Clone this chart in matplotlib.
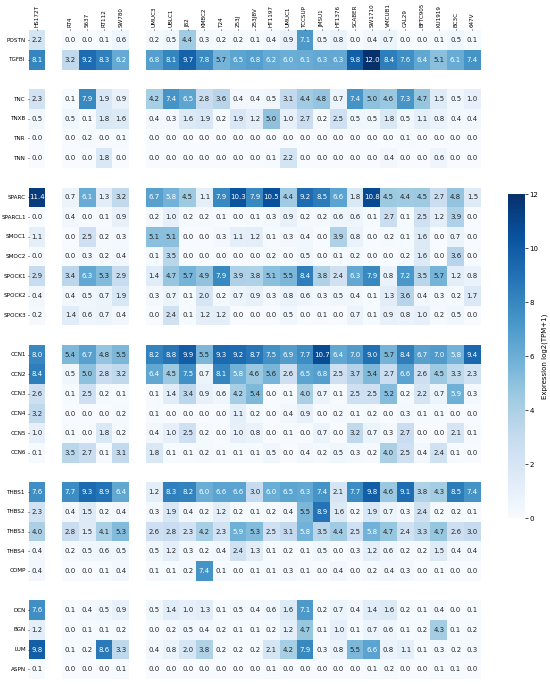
import numpy as np
import pandas as pd
import matplotlib
matplotlib.use("Agg")
import matplotlib.pyplot as plt
import seaborn as sns

# cell lines, grouped (a blank column goes between groups)
col_groups = [
    ["HS172T"],
    ["RT4", "5637", "RT112", "SW780"],
    ["UMUC3", "UBLC1", "J82", "KMBC2", "T24", "253J", "253JBV", "HT1197",
     "UMUC1", "TCCSUP", "JMSU1", "HT1376", "SCABER", "SW1710", "VMCUB1",
     "CAL29", "BFTC905", "KU1919", "BC3C", "647V"],
]

# genes, grouped (a blank row goes between groups)
row_groups = [
    ["POSTN", "TGFBI"],
    ["TNC", "TNXB", "TNR", "TNN"],
    ["SPARC", "SPARCL1", "SMOC1", "SMOC2", "SPOCK1", "SPOCK2", "SPOCK3"],
    ["CCN1", "CCN2", "CCN3", "CCN4", "CCN5", "CCN6"],
    ["THBS1", "THBS2", "THBS3", "THBS4", "COMP"],
    ["DCN", "BGN", "LUM", "ASPN"],
]

# log2(TPM+1), one list per gene, columns in the order of col_groups
POSTN = [2.2, 0.0, 0.0, 0.1, 0.6, 0.2, 0.5, 4.4, 0.3, 0.2, 0.2, 0.1, 0.4, 0.9, 7.1, 0.5, 0.8, 0.0, 0.4, 0.7, 0.0, 0.0, 0.1, 0.5, 0.1]
TGFBI = [8.1, 3.2, 9.2, 8.3, 6.2, 6.8, 8.1, 9.7, 7.8, 5.7, 6.5, 6.8, 6.2, 6.0, 6.1, 6.3, 6.3, 9.8, 12.0, 8.4, 7.6, 6.4, 5.1, 6.1, 7.4]
TNC = [2.3, 0.1, 7.9, 1.9, 0.9, 4.2, 7.4, 6.5, 2.8, 3.6, 0.4, 0.4, 0.5, 3.1, 4.4, 4.8, 0.7, 7.4, 5.0, 4.6, 7.3, 4.7, 1.5, 0.5, 1.0]
TNXB = [0.5, 0.5, 0.1, 1.8, 1.6, 0.4, 0.3, 1.6, 1.9, 0.2, 1.9, 1.2, 5.0, 1.0, 2.7, 0.2, 2.5, 0.5, 0.5, 1.8, 0.5, 1.1, 0.8, 0.4, 0.4]
TNR = [0.0, 0.0, 0.2, 0.0, 0.1, 0.0, 0.0, 0.0, 0.0, 0.0, 0.0, 0.0, 0.0, 0.0, 0.0, 0.0, 0.0, 0.0, 0.0, 0.0, 0.1, 0.0, 0.0, 0.0, 0.0]
TNN = [0.0, 0.0, 0.0, 1.8, 0.0, 0.0, 0.0, 0.0, 0.0, 0.0, 0.0, 0.0, 0.1, 2.2, 0.0, 0.0, 0.0, 0.0, 0.0, 0.4, 0.0, 0.0, 0.6, 0.0, 0.0]
SPARC = [11.4, 0.7, 6.1, 1.3, 3.2, 6.7, 5.8, 4.5, 1.1, 7.9, 10.3, 7.9, 10.5, 4.4, 9.2, 8.5, 6.6, 1.8, 10.8, 4.5, 4.4, 4.5, 2.7, 4.8, 1.5]
SPARCL1 = [0.0, 0.4, 0.0, 0.1, 0.9, 0.2, 1.0, 0.2, 0.2, 0.1, 0.0, 0.1, 0.3, 0.9, 0.2, 0.2, 0.6, 0.6, 0.1, 2.7, 0.1, 2.5, 1.2, 3.9, 0.0]
SMOC1 = [1.1, 0.0, 2.5, 0.2, 0.3, 5.1, 5.1, 0.0, 0.0, 0.3, 1.1, 1.2, 0.1, 0.3, 0.4, 0.0, 3.9, 0.8, 0.0, 0.2, 0.1, 1.6, 0.0, 0.7, 0.0]
SMOC2 = [0.0, 0.0, 0.3, 0.2, 0.4, 0.1, 3.5, 0.0, 0.0, 0.0, 0.0, 0.0, 0.2, 0.0, 0.5, 0.0, 0.1, 0.2, 0.0, 0.0, 0.2, 1.6, 0.0, 3.6, 0.0]
SPOCK1 = [2.9, 3.4, 6.3, 5.3, 2.9, 1.4, 4.7, 5.7, 4.9, 7.9, 3.9, 3.8, 5.1, 5.5, 8.4, 3.8, 2.4, 6.3, 7.9, 0.8, 7.2, 3.5, 5.7, 1.2, 0.8]
SPOCK2 = [0.4, 0.4, 0.5, 0.7, 1.9, 0.3, 0.7, 0.1, 2.0, 0.2, 0.7, 0.9, 0.3, 0.8, 0.6, 0.3, 0.5, 0.4, 0.1, 1.3, 3.6, 0.4, 0.3, 0.2, 1.7]
SPOCK3 = [0.2, 1.4, 0.6, 0.7, 0.4, 0.0, 2.4, 0.1, 1.2, 1.2, 0.0, 0.0, 0.0, 0.5, 0.0, 0.1, 0.0, 0.7, 0.1, 0.9, 0.8, 1.0, 0.2, 0.5, 0.0]
CCN1 = [8.0, 5.4, 6.7, 4.8, 5.5, 8.2, 8.8, 9.9, 5.5, 9.3, 9.2, 8.7, 7.5, 6.9, 7.7, 10.7, 6.4, 7.0, 9.0, 5.7, 8.4, 6.7, 7.0, 5.8, 9.4]
CCN2 = [8.4, 0.5, 5.0, 2.8, 3.2, 6.4, 4.5, 7.5, 0.7, 8.1, 5.8, 4.6, 5.6, 2.6, 6.5, 6.8, 2.5, 3.7, 5.4, 2.7, 6.6, 2.6, 4.5, 3.3, 2.3]
CCN3 = [2.6, 0.1, 2.5, 0.2, 0.1, 0.1, 1.4, 3.4, 0.9, 0.6, 4.2, 5.4, 0.0, 0.1, 4.0, 0.7, 0.1, 2.5, 2.5, 5.2, 0.2, 2.2, 0.7, 5.9, 0.3]
CCN4 = [3.2, 0.0, 0.0, 0.0, 0.2, 0.1, 0.0, 0.0, 0.0, 0.0, 1.1, 0.2, 0.0, 0.4, 0.9, 0.0, 0.2, 0.1, 0.2, 0.0, 0.3, 0.1, 0.1, 0.0, 0.0]
CCN5 = [1.0, 0.1, 0.0, 1.8, 0.2, 0.4, 1.0, 2.5, 0.2, 0.0, 1.0, 0.8, 0.0, 0.1, 0.0, 0.7, 0.0, 3.2, 0.7, 0.3, 2.7, 0.0, 0.0, 2.1, 0.1]
CCN6 = [0.1, 3.5, 2.7, 0.1, 3.1, 1.8, 0.1, 0.1, 0.2, 0.1, 0.1, 0.1, 0.5, 0.0, 0.4, 0.2, 0.5, 0.3, 0.2, 4.0, 2.5, 0.4, 2.4, 0.1, 0.0]
THBS1 = [7.6, 7.7, 9.3, 8.9, 6.4, 1.2, 8.3, 8.2, 6.0, 6.6, 6.6, 3.0, 6.0, 6.5, 6.3, 7.4, 2.1, 7.7, 9.8, 4.6, 9.1, 3.8, 4.3, 8.5, 7.4]
THBS2 = [2.3, 0.4, 1.5, 0.2, 0.4, 0.3, 1.9, 0.4, 0.2, 1.2, 0.2, 0.1, 0.2, 0.4, 5.5, 8.9, 1.6, 0.2, 1.9, 0.7, 0.3, 2.4, 0.2, 0.2, 0.1]
THBS3 = [4.0, 2.8, 1.5, 4.1, 5.3, 2.6, 2.8, 2.3, 4.2, 2.3, 5.9, 5.3, 2.5, 3.1, 5.8, 3.5, 4.4, 2.5, 5.8, 4.7, 2.4, 3.3, 4.7, 2.6, 3.0]
THBS4 = [0.4, 0.2, 0.5, 0.6, 0.5, 0.5, 1.2, 0.3, 0.2, 0.4, 2.4, 1.3, 0.1, 0.2, 0.1, 0.5, 0.0, 0.3, 1.2, 0.6, 0.2, 0.2, 1.5, 0.4, 0.4]
COMP = [0.4, 0.0, 0.0, 0.1, 0.4, 0.1, 0.1, 0.2, 7.4, 0.1, 0.0, 0.1, 0.1, 0.3, 0.1, 0.0, 0.4, 0.0, 0.2, 0.4, 0.3, 0.0, 0.1, 0.0, 0.0]
DCN = [7.6, 0.1, 0.4, 0.5, 0.9, 0.5, 1.4, 1.0, 1.3, 0.1, 0.5, 0.4, 0.6, 1.6, 7.1, 0.2, 0.7, 0.4, 1.4, 1.6, 0.2, 0.1, 0.4, 0.0, 0.1]
BGN = [1.2, 0.0, 0.1, 0.1, 0.2, 0.0, 0.2, 0.5, 0.4, 0.2, 0.1, 0.1, 0.2, 1.2, 4.7, 0.1, 1.0, 0.1, 0.7, 0.6, 0.1, 0.2, 4.3, 0.1, 0.2]
LUM = [9.8, 0.1, 0.2, 8.6, 3.3, 0.4, 0.8, 2.0, 3.8, 0.2, 0.2, 0.2, 2.1, 4.2, 7.9, 0.3, 0.8, 5.5, 6.6, 0.8, 1.1, 0.1, 0.3, 0.2, 0.3]
ASPN = [0.1, 0.0, 0.0, 0.0, 0.1, 0.0, 0.0, 0.0, 0.0, 0.0, 0.0, 0.0, 0.1, 0.0, 0.0, 0.0, 0.0, 0.0, 0.1, 0.2, 0.0, 0.0, 0.1, 0.1, 0.0]

values = {
    "POSTN": POSTN, "TGFBI": TGFBI, "TNC": TNC, "TNXB": TNXB, "TNR": TNR,
    "TNN": TNN, "SPARC": SPARC, "SPARCL1": SPARCL1, "SMOC1": SMOC1,
    "SMOC2": SMOC2, "SPOCK1": SPOCK1, "SPOCK2": SPOCK2, "SPOCK3": SPOCK3,
    "CCN1": CCN1, "CCN2": CCN2, "CCN3": CCN3, "CCN4": CCN4, "CCN5": CCN5,
    "CCN6": CCN6, "THBS1": THBS1, "THBS2": THBS2, "THBS3": THBS3,
    "THBS4": THBS4, "COMP": COMP, "DCN": DCN, "BGN": BGN, "LUM": LUM,
    "ASPN": ASPN,
}

# build grid with blank spacer rows / columns between groups
cols = []
for i, g in enumerate(col_groups):
    if i > 0:
        cols.append(None)
    cols += g
rows = []
for i, g in enumerate(row_groups):
    if i > 0:
        rows.append(None)
    rows += g

data_cols = [c for group in col_groups for c in group]
grid = np.full((len(rows), len(cols)), np.nan)
for r, gene in enumerate(rows):
    if gene is None:
        continue
    vals = dict(zip(data_cols, values[gene]))
    for c, line in enumerate(cols):
        if line is not None:
            grid[r, c] = vals[line]

df = pd.DataFrame(grid,
                  index=[g if g else "" for g in rows],
                  columns=[c if c else "" for c in cols])

fig = plt.figure(figsize=(5.5, 6.88), dpi=100)
ax = fig.add_axes([0.052, 0.013, 0.822, 0.943])
cax = fig.add_axes([0.924, 0.247, 0.031, 0.471])

sns.heatmap(df, ax=ax, cbar_ax=cax, cmap="Blues", vmin=0, vmax=12,
            annot=True, fmt=".1f", annot_kws={"fontsize": 5},
            cbar_kws={"label": "Expression log2(TPM+1)"})

# ticks only where there is a label (no ticks for spacer rows/cols)
xpos = [i + 0.5 for i, c in enumerate(cols) if c is not None]
ypos = [i + 0.5 for i, g in enumerate(rows) if g is not None]
ax.xaxis.tick_top()
ax.set_xticks(xpos)
ax.set_xticklabels([c for c in cols if c is not None], rotation=90, fontsize=4.1)
ax.set_yticks(ypos)
ax.set_yticklabels([g for g in rows if g is not None], rotation=0, fontsize=4.1)
ax.tick_params(axis="both", length=1, width=0.5, pad=1)
ax.set_xlabel("")
ax.set_ylabel("")

cax.tick_params(labelsize=5, length=2, width=0.5, pad=1)
cax.set_ylabel("Expression log2(TPM+1)", fontsize=5, labelpad=2)

fig.savefig("out.png", dpi=100)
plt.close(fig)
